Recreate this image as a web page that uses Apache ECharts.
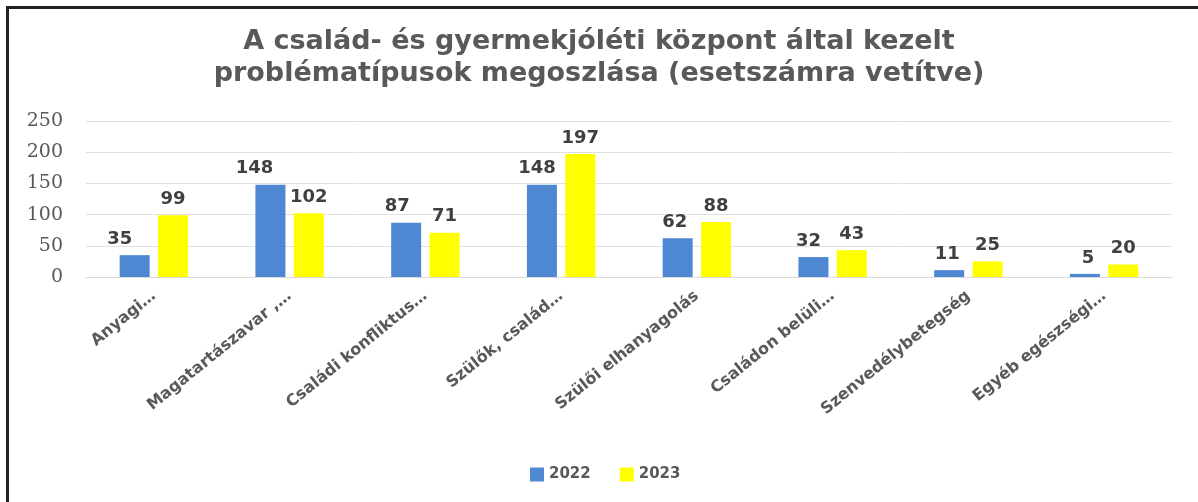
<!DOCTYPE html>
<html><head><meta charset="utf-8">
<script src="https://cdn.jsdelivr.net/npm/echarts@6/dist/echarts.min.js"></script>
<style>
html,body{margin:0;padding:0;background:#fff;}
#wrap{position:absolute;left:0;top:0;width:1198px;height:502px;overflow:hidden;}
#frame{position:absolute;left:6px;top:6px;width:1210px;height:520px;border-left:3px solid #222;border-top:3px solid #222;box-sizing:border-box;}
#chart{position:absolute;left:0;top:0;width:1198px;height:502px;}
</style></head>
<body><div id="wrap"><div id="chart"></div><div id="frame"></div></div>
<script>
const categories = ["Anyagi…","Magatartászavar ,…","Családi konfliktus…","Szülők, család…","Szülői elhanyagolás","Családon belüli…","Szenvedélybetegség","Egyéb egészségi…"];
const values2022 = [35,148,87,148,62,32,11,5];
const values2023 = [99,102,71,197,88,43,25,20];
const yTicks = [0,50,100,150,200,250];
// label nudges (style only, px)
const labelShift2022 = [-15,-16,-9,-5,-3,-5,-2,3];

const chart = echarts.init(document.getElementById('chart'));
const font = "'DejaVu Sans', sans-serif";
const lbl = {show:true,position:'top',distance:7,color:'#404040',fontSize:18,fontWeight:'bold',fontFamily:font};
chart.setOption({
  animation:false,
  title:{text:'A család- és gyermekjóléti központ által kezelt\nproblématípusok megoszlása (esetszámra vetítve)',left:'center',top:21,
    textStyle:{color:'#595959',fontSize:27,fontWeight:'bold',fontFamily:font,lineHeight:32}},
  legend:{data:['2022','2023'],left:525,top:462,itemWidth:14,itemHeight:14,itemGap:29,icon:'rect',
    textStyle:{color:'#595959',fontSize:15,fontWeight:'bold',fontFamily:font}},
  grid:{left:86,right:26,top:121,bottom:225,containLabel:false},
  xAxis:{type:'category',data:categories,axisTick:{show:false},
    axisLine:{lineStyle:{color:'#d9d9d9'}},
    axisLabel:{rotate:39,interval:0,margin:17,color:'#595959',fontSize:16,fontWeight:'bold',fontFamily:font}},
  yAxis:{type:'value',min:yTicks[0],max:yTicks[yTicks.length-1],interval:50,
    axisLabel:{color:'#595959',fontSize:19,fontFamily:"'DejaVu Serif', serif",margin:23},
    splitLine:{lineStyle:{color:'#e0e0e0'}},axisLine:{show:false}},
  series:[
    {name:'2022',type:'bar',barWidth:30,barGap:'28%',itemStyle:{color:'#4F88D2'},label:lbl,
      data:values2022.map((v,i)=>({value:v,label:{offset:[labelShift2022[i],0]}}))},
    {name:'2023',type:'bar',data:values2023,barWidth:30,itemStyle:{color:'#FFFF00'},label:lbl}
  ]
});
</script></body></html>
